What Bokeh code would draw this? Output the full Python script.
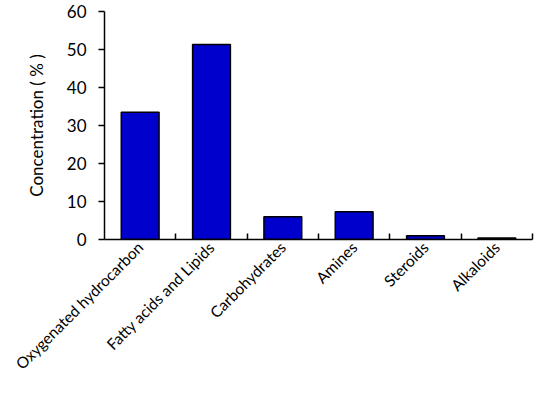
import numpy as np
from bokeh.plotting import figure
from bokeh.models import Range1d, FixedTicker, ColumnDataSource
from bokeh.embed import file_html
from bokeh.resources import INLINE

categories = ["Oxygenated hydrocarbon", "Fatty acids and Lipids", "Carbohydrates",
              "Amines", "Steroids", "Alkaloids"]
values = [33.5, 51.3, 6.0, 7.3, 1.0, 0.4]
y_ticks = [0, 10, 20, 30, 40, 50, 60]

positions = [i + 0.5 for i in range(len(categories))]
src = ColumnDataSource(dict(x=positions, top=values))

p = figure(width=534, height=382, output_backend="svg", toolbar_location=None,
           x_range=Range1d(0, len(categories)), y_range=Range1d(0, 60),
           min_border_left=104, min_border_right=2, min_border_top=11)
p.outline_line_color = None
p.grid.visible = False
p.background_fill_color = "white"
p.border_fill_color = "white"

p.vbar(x="x", top="top", width=0.53, bottom=0, source=src,
       fill_color="#0000CC", line_color="black", line_width=1.5)

FONT = "Lato"

xa = p.xaxis[0]
xa.ticker = FixedTicker(ticks=positions, minor_ticks=list(range(1, len(categories) + 1)))
xa.major_label_overrides = {pos: c for pos, c in zip(positions, categories)}
xa.major_label_orientation = np.pi / 4
xa.major_tick_in = 0
xa.major_tick_out = 0
xa.minor_tick_in = 6
xa.minor_tick_out = 0
xa.minor_tick_line_color = "black"
xa.minor_tick_line_width = 1.5
xa.axis_line_color = "black"
xa.axis_line_width = 1.5
xa.major_label_text_font = FONT
xa.major_label_text_font_size = "15.5px"
xa.major_label_text_color = "black"
xa.major_label_standoff = 5

ya = p.yaxis[0]
ya.ticker = FixedTicker(ticks=y_ticks)
ya.minor_tick_line_color = None
ya.major_tick_in = 0
ya.major_tick_out = 6
ya.major_tick_line_width = 1.5
ya.axis_line_width = 1.5
ya.axis_line_color = "black"
ya.major_label_text_font = FONT
ya.major_label_text_font_size = "17px"
ya.major_label_text_color = "black"
ya.major_label_standoff = 12
ya.axis_label = "Concentration ( % )"
ya.axis_label_text_font = FONT
ya.axis_label_text_font_size = "17px"
ya.axis_label_text_font_style = "normal"
ya.axis_label_text_color = "black"
ya.axis_label_standoff = 17

open("out.html", "w").write(file_html(p, INLINE))
